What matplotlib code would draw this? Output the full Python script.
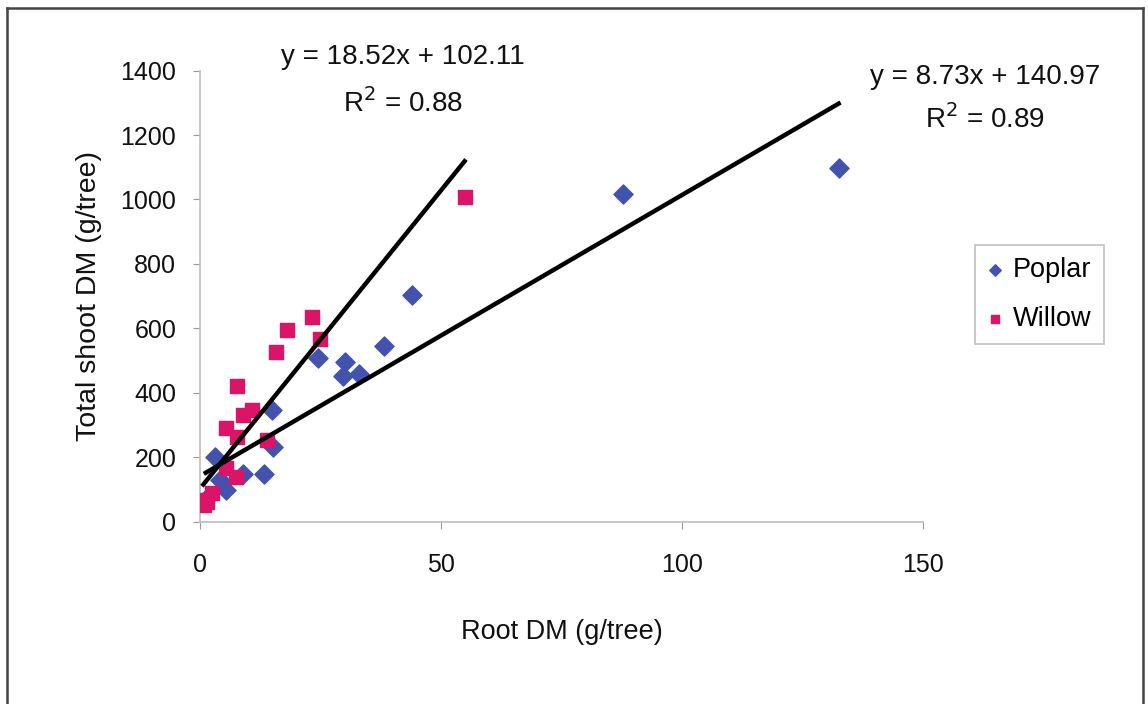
import numpy as np
import matplotlib
matplotlib.use("Agg")
import matplotlib.pyplot as plt
from matplotlib.lines import Line2D

plt.rcParams['font.family'] = ['Liberation Sans', 'DejaVu Sans']

# root DM vs shoot DM per tree
poplar_root = [1.2, 3.1, 4.1, 5.5, 9.0, 13.3, 14.9, 15.2, 24.5, 29.6, 30.1, 33.0, 38.2, 43.9, 87.7, 132.5]
poplar_shoot = [70, 201, 129, 98, 147, 147, 346, 232, 507, 452, 496, 458, 545, 703, 1016, 1097]

willow_root = [0.7, 0.8, 1.4, 2.4, 5.3, 5.5, 7.5, 7.6, 7.6, 9.0, 10.7, 14.0, 15.8, 18.1, 23.3, 24.8, 54.9]
willow_shoot = [67, 51, 61, 88, 291, 165, 139, 421, 263, 331, 346, 253, 527, 595, 634, 566, 1008]

poplar_fit = (8.73, 140.97)
willow_fit = (18.52, 102.11)
poplar_eq = "y = 8.73x + 140.97\nR$^2$ = 0.89"
willow_eq = "y = 18.52x + 102.11\nR$^2$ = 0.88"

poplar_col = "#4353ad"
willow_col = "#dc1468"

fig = plt.figure(figsize=(11.48, 7.04), dpi=100)
ax = fig.add_axes([0.1742, 0.2592, 0.6298, 0.6404])

ax.scatter(poplar_root, poplar_shoot, marker="D", s=95, color=poplar_col, label="Poplar", zorder=3)
ax.scatter(willow_root, willow_shoot, marker="s", s=115, color=willow_col, label="Willow", zorder=3)

# linear trend lines over each series' range
for xs, (m, c) in [(willow_root, willow_fit), (poplar_root, poplar_fit)]:
    xx = np.array([min(xs), max(xs)])
    ax.plot(xx, m * xx + c, color="black", lw=3.2, zorder=4)

ax.set_xlim(0, 150)
ax.set_ylim(0, 1400)
ax.set_xticks([0, 50, 100, 150])
ax.set_yticks(range(0, 1401, 200))

for s in ["top", "right"]:
    ax.spines[s].set_visible(False)
for s in ["left", "bottom"]:
    ax.spines[s].set_color("#bdbdbd")
    ax.spines[s].set_linewidth(1.2)
ax.tick_params(axis="both", colors="#9a9a9a", length=5, labelsize=18, labelcolor="#111111")
ax.tick_params(axis="x", pad=18)
ax.tick_params(axis="y", pad=12)

ax.set_xlabel("Root DM (g/tree)", fontsize=19.5, color="#111111", labelpad=30)
ax.set_ylabel("Total shoot DM (g/tree)", fontsize=20.5, color="#111111", labelpad=13)

fig.text(403 / 1148, 1 - 81 / 704, willow_eq, fontsize=20, ha="center", va="center",
         linespacing=1.75, color="#111111", multialignment="center")
fig.text(985 / 1148, 1 - 99 / 704, poplar_eq, fontsize=20, ha="center", va="center",
         linespacing=1.6, color="#111111", multialignment="center")

leg = ax.legend(loc="upper left", bbox_to_anchor=(975 / 1148, 1 - 245 / 704),
                bbox_transform=fig.transFigure, fontsize=19.5, frameon=True, fancybox=False,
                handlelength=0.6, handletextpad=0.35, borderpad=0.45, labelspacing=0.85,
                borderaxespad=0, markerscale=0.6)
leg.get_frame().set_edgecolor("#b0b0b0")
leg.get_frame().set_linewidth(1.2)

# outer frame
W, H = 1148, 704
frame_kw = dict(color="#444444", lw=1.8, transform=fig.transFigure)
fig.add_artist(Line2D([7 / W, 7 / W], [0, 1 - 8 / H], **frame_kw))
fig.add_artist(Line2D([1143 / W, 1143 / W], [0, 1 - 8 / H], **frame_kw))
fig.add_artist(Line2D([7 / W, 1143 / W], [1 - 8 / H, 1 - 8 / H], **frame_kw))

fig.savefig("out.png", dpi=100)
